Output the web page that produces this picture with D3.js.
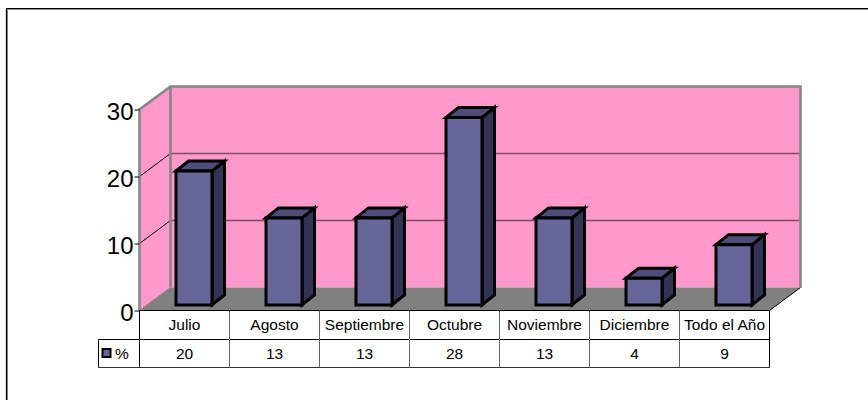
<!DOCTYPE html>
<html><head><meta charset="utf-8">
<script src="https://cdn.jsdelivr.net/npm/d3@7/dist/d3.min.js"></script>
<style>html,body{margin:0;padding:0;background:#fff}svg{display:block}text{font-family:"Liberation Sans",Arial,sans-serif;fill:#000}</style>
</head><body><svg id="c" width="868" height="400"></svg>
<script>
const categories = ["Julio","Agosto","Septiembre","Octubre","Noviembre","Diciembre","Todo el Año"];
const seriesValues = [20,13,13,28,13,4,9];
const seriesName = "%";
const yTicks = [0,10,20,30];

const svg = d3.select("#c");
const plotL = 139.5, plotR = 769.5, plotB = 310.5, plotT = 109.5;
const dx = 31, dy = -23;           // wall depth
const barDx = 12.5, barDy = -10;   // bar depth
const barShiftX = 9.5, barShiftY = -5.5;
const x = d3.scaleBand().domain(categories).range([plotL, plotR]).paddingInner(0).paddingOuter(0);
const y = d3.scaleLinear().domain([0,30]).range([plotB, plotT]);
const poly = (pts, fill, stroke, sw) => svg.append("polygon").attr("points", pts.map(p=>p.join(",")).join(" "))
  .attr("fill", fill).attr("stroke", stroke||"none").attr("stroke-width", sw||0).attr("stroke-linejoin","miter");
const line = (a,b,c,w) => svg.append("line").attr("x1",a[0]).attr("y1",a[1]).attr("x2",b[0]).attr("y2",b[1]).attr("stroke",c).attr("stroke-width",w);

// outer frame: open on the right and at the bottom
svg.append("path").attr("d","M7.5,400V9.5H868").attr("fill","none").attr("stroke","#909090").attr("stroke-width",1);
svg.append("path").attr("d","M6.5,400V8.5H868").attr("fill","none").attr("stroke","#000").attr("stroke-width",1.2);

// walls
poly([[plotL+dx,y(30)+dy],[plotR+dx,y(30)+dy],[plotR+dx,plotB+dy],[plotL+dx,plotB+dy]],"#ff99cc");
poly([[plotL,y(30)],[plotL+dx,y(30)+dy],[plotL+dx,plotB+dy],[plotL,plotB]],"#ff99cc");
poly([[plotL,plotB],[plotL+dx,plotB+dy],[plotR+dx,plotB+dy],[plotR,plotB]],"#808080");

// gridlines
yTicks.filter(t=>t>0&&t<30).forEach(t=>{
  line([plotL,y(t)],[plotL+dx,y(t)+dy],"#000",1);
  line([plotL+dx,y(t)+dy],[plotR+dx,y(t)+dy],"#7f4c66",1.6);
});
// wall borders
svg.append("path").attr("d",`M${plotL},${plotB}V${y(30)}L${plotL+dx},${y(30)+dy}H${plotR+dx}V${plotB+dy}`).attr("fill","none").attr("stroke","#868686").attr("stroke-width",2.6);
line([plotL+dx,y(30)+dy],[plotL+dx,plotB+dy],"#868686",2.6);
line([plotR,plotB],[plotR+dx,plotB+dy],"#000",1);
line([plotL,plotB],[plotL+dx,plotB+dy],"#808080",1);

// bars
const barW = 36;
categories.forEach((c,i)=>{
  const v = seriesValues[i];
  const x0 = x(c)+x.bandwidth()/2-barW/2+barShiftX, x1 = x0+barW;
  const yb = y(0)+barShiftY, yt = y(v)+barShiftY;
  const sw = 3;
  poly([[x1,yt],[x1+barDx,yt+barDy],[x1+barDx,yb+barDy],[x1,yb]],"#333355","#000",sw);
  poly([[x0,yt],[x0+barDx,yt+barDy],[x1+barDx,yt+barDy],[x1,yt]],"#4d4d77","#000",sw);
  poly([[x0,yt],[x1,yt],[x1,yb],[x0,yb]],"#666699","#000",sw);
});

// y axis labels
const yAxis = d3.axisLeft(y).tickValues(yTicks).tickSize(5).tickPadding(1);
const ga = svg.append("g").attr("transform",`translate(${plotL},0)`).call(yAxis);
ga.select(".domain").remove();
ga.selectAll(".tick line").attr("stroke","#000");
ga.selectAll("text").attr("font-size",24).attr("dy","0.42em").style("font-family",'"Liberation Sans",Arial,sans-serif').attr("fill","#000");

// data table
const rowA = 310.5, rowB = 339.5, rowC = 367.5, legL = 98.5;
line([plotL,rowA],[plotR,rowA],"#000",1);
line([legL,rowB],[plotR,rowB],"#000",1);
line([legL,rowC],[plotR,rowC],"#333",1);
line([legL,rowB],[legL,rowC],"#000",1);
line([plotL,rowA],[plotL,rowC],"#000",1);
categories.forEach((c,i)=>{
  const xr = x(c)+x.bandwidth();
  line([xr,rowA],[xr,rowC],i===categories.length-1?"#000":"#666",1);
  svg.append("text").attr("x",x(c)+x.bandwidth()/2).attr("y",329.5).attr("text-anchor","middle").attr("font-size",15.5).text(c);
  svg.append("text").attr("x",x(c)+x.bandwidth()/2).attr("y",358.5).attr("text-anchor","middle").attr("font-size",15.5).text(seriesValues[i]);
});
svg.append("rect").attr("x",102.5).attr("y",349).attr("width",8).attr("height",8).attr("fill","#666699").attr("stroke","#000").attr("stroke-width",2);
svg.append("text").attr("x",115).attr("y",359).attr("font-size",15.5).text(seriesName);
</script></body></html>
